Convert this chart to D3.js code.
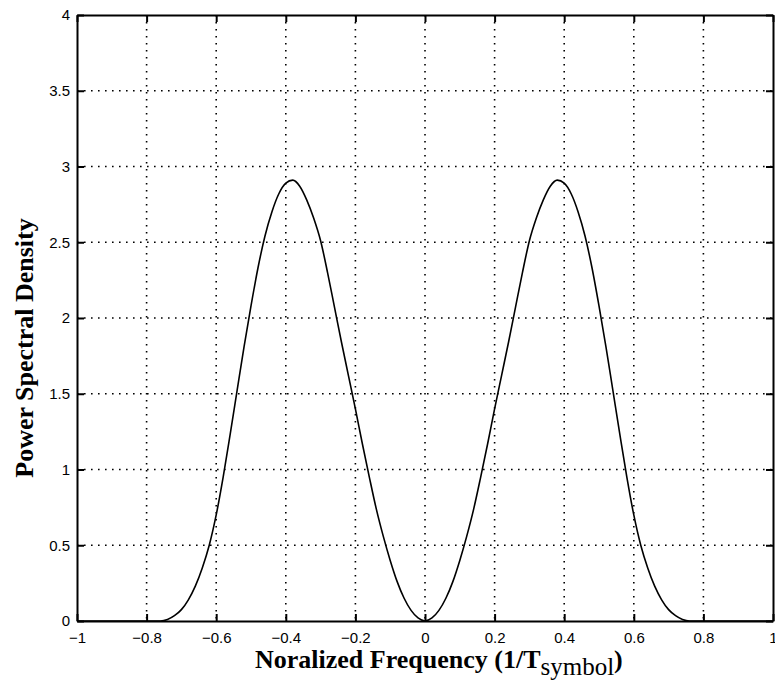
<!DOCTYPE html>
<html>
<head>
<meta charset="utf-8">
<script src="https://cdn.jsdelivr.net/npm/d3@7"></script>
<style>
  body { margin: 0; background: #fff; }
  .tick text { font-family: "Liberation Sans", Arial, sans-serif; font-size: 15px; fill: #000; }
  .label { font-family: "Liberation Serif", "Times New Roman", serif; font-weight: bold; font-size: 26px; fill: #000; }
</style>
</head>
<body>
<div id="chart"></div>
<script>
// curve (frequency in 1/Tsymbol, PSD)
var freq = [-1, -0.9, -0.8, -0.76, -0.74, -0.72, -0.7, -0.68, -0.66, -0.64, -0.62, -0.6, -0.58, -0.56, -0.54, -0.52, -0.5, -0.48, -0.46, -0.44, -0.42, -0.4, -0.38,
            -0.36, -0.34, -0.32, -0.3, -0.28, -0.26, -0.24, -0.22, -0.2, -0.18, -0.16, -0.14, -0.12, -0.1, -0.08, -0.06, -0.04, -0.02, 0,
            0.02, 0.04, 0.06, 0.08, 0.1, 0.12, 0.14, 0.16, 0.18, 0.2, 0.22, 0.24, 0.26, 0.28, 0.3, 0.32, 0.34, 0.36,
            0.38, 0.4, 0.42, 0.44, 0.46, 0.48, 0.5, 0.52, 0.54, 0.56, 0.58, 0.6, 0.62, 0.64, 0.66, 0.68, 0.7, 0.72, 0.74, 0.76, 0.8, 0.9, 1];
var psd = [0, 0, 0, 0, 0.01, 0.035, 0.075, 0.14, 0.23, 0.35, 0.5, 0.7, 0.95, 1.23, 1.52, 1.81, 2.08, 2.33, 2.54, 2.7, 2.82, 2.89, 2.91,
           2.87, 2.78, 2.66, 2.51, 2.3, 2.07, 1.84, 1.62, 1.4, 1.17, 0.95, 0.74, 0.56, 0.4, 0.26, 0.15, 0.07, 0.02, 0,
           0.02, 0.07, 0.15, 0.26, 0.4, 0.56, 0.74, 0.95, 1.17, 1.4, 1.62, 1.84, 2.07, 2.3, 2.51, 2.66, 2.78, 2.87,
           2.91, 2.89, 2.82, 2.7, 2.54, 2.33, 2.08, 1.81, 1.52, 1.23, 0.95, 0.7, 0.5, 0.35, 0.23, 0.14, 0.075, 0.035, 0.01, 0, 0, 0, 0];
var xTicks = [-1, -0.8, -0.6, -0.4, -0.2, 0, 0.2, 0.4, 0.6, 0.8, 1];
var yTicks = [0, 0.5, 1, 1.5, 2, 2.5, 3, 3.5, 4];

var w = 775, h = 685;
var plotL = 77, plotR = 773, plotT = 15, plotB = 621;

var svg = d3.select("#chart").append("svg").attr("width", w).attr("height", h);
svg.append("rect").attr("width", w).attr("height", h).attr("fill", "#fff");

var xScale = d3.scaleLinear().domain([-1, 1]).range([plotL, plotR]);
var yScale = d3.scaleLinear().domain([0, 4]).range([plotB, plotT]);

// dotted grid
var grid = svg.append("g").attr("stroke", "#000").attr("stroke-width", 1.6).attr("stroke-dasharray", "1.6,5.4");
grid.selectAll(".vg").data(xTicks.slice(1, -1)).enter().append("line")
    .attr("x1", function(d) { return xScale(d); }).attr("x2", function(d) { return xScale(d); })
    .attr("y1", plotT).attr("y2", plotB);
grid.selectAll(".hg").data(yTicks.slice(1, -1)).enter().append("line")
    .attr("x1", plotL).attr("x2", plotR)
    .attr("y1", function(d) { return yScale(d); }).attr("y2", function(d) { return yScale(d); });

// axes with inward ticks, matlab style
var fmt = function(d) { return d3.format("")(d).replace("-", "\u2212"); };
var xAxis = d3.axisBottom(xScale).tickValues(xTicks).tickSizeInner(-7).tickSizeOuter(0).tickPadding(11).tickFormat(fmt);
var yAxis = d3.axisLeft(yScale).tickValues(yTicks).tickSizeInner(-7).tickSizeOuter(0).tickPadding(7).tickFormat(fmt);

svg.append("g").attr("transform", "translate(0," + plotB + ")").call(xAxis);
svg.append("g").attr("transform", "translate(" + plotL + ",0)").call(yAxis);
svg.append("g").attr("transform", "translate(0," + plotT + ")")
    .call(d3.axisTop(xScale).tickValues(xTicks).tickSizeInner(-7).tickSizeOuter(0).tickFormat(""));
svg.append("g").attr("transform", "translate(" + plotR + ",0)")
    .call(d3.axisRight(yScale).tickValues(yTicks).tickSizeInner(-7).tickSizeOuter(0).tickFormat(""));
svg.selectAll(".domain").attr("stroke", "#000").attr("stroke-width", 2);
svg.selectAll(".tick line").attr("stroke", "#000").attr("stroke-width", 2);

// the PSD curve
var line = d3.line()
    .x(function(d, i) { return xScale(freq[i]); })
    .y(function(d, i) { return yScale(psd[i]); })
    .curve(d3.curveMonotoneX);
svg.append("path").datum(freq).attr("d", line)
    .attr("fill", "none").attr("stroke", "#000").attr("stroke-width", 1.6);

// labels
var xl = svg.append("text").attr("class", "label").attr("x", 255).attr("y", 668);
xl.append("tspan").text("Noralized Frequency (1/T");
xl.append("tspan").attr("dy", 7).style("font-weight", "normal").style("font-size", "25px").text("symbol");
xl.append("tspan").attr("dy", -7).text(")");

svg.append("text").attr("class", "label")
    .attr("text-anchor", "middle")
    .attr("transform", "translate(33,348) rotate(-90)")
    .text("Power Spectral Density");
</script>
</body>
</html>
